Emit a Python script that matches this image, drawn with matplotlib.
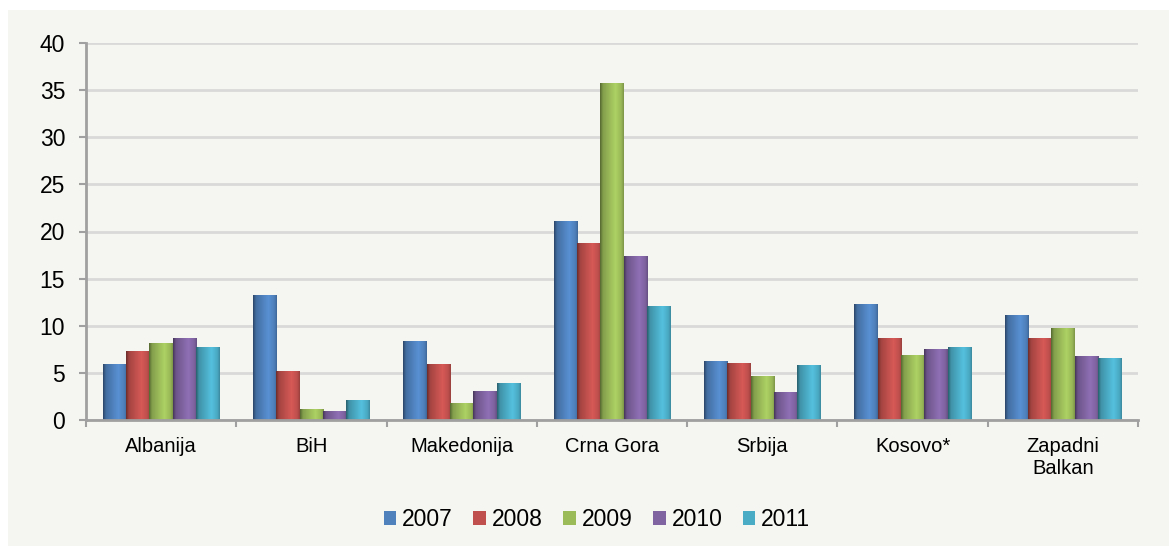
import numpy as np
import matplotlib
matplotlib.use('Agg')
import matplotlib.pyplot as plt
from matplotlib.patches import Rectangle
from matplotlib.colors import to_rgb

# Chart data
countries = ['Albanija', 'BiH', 'Makedonija', 'Crna Gora', 'Srbija', 'Kosovo*', 'Zapadni\nBalkan']
years = ['2007', '2008', '2009', '2010', '2011']
v2007 = [5.9, 13.2, 8.3, 21.1, 6.2, 12.3, 11.1]
v2008 = [7.3, 5.1, 5.9, 18.7, 6.0, 8.7, 8.6]
v2009 = [8.1, 1.1, 1.8, 35.7, 4.6, 6.8, 9.7]
v2010 = [8.6, 0.9, 3.0, 17.3, 2.9, 7.5, 6.7]
v2011 = [7.7, 2.1, 3.9, 12.0, 5.8, 7.7, 6.5]
series = [v2007, v2008, v2009, v2010, v2011]
colors = ['#4F81BD', '#C0504D', '#9BBB59', '#8064A2', '#4BACC6']

panel = '#F5F5F1'
plt.rcParams['font.family'] = ['Liberation Sans', 'DejaVu Sans']


def shade_bar(ax, patch, color):
    '''Paints a cylinder-like horizontal gradient over a bar patch.'''
    x0, y0 = patch.get_x(), patch.get_y()
    w, h = patch.get_width(), patch.get_height()
    t = np.linspace(0, 1, 64)
    # dark left edge, bright around 65%, slightly dark right edge
    f = np.interp(t, [0, 0.12, 0.65, 0.9, 1.0], [0.55, 0.85, 1.12, 0.98, 0.8])
    rgb = np.clip(np.array(to_rgb(color))[None, :] * f[:, None], 0, 1)
    img = rgb[None, :, :]
    ax.imshow(img, extent=(x0, x0 + w, y0, y0 + h), aspect='auto',
              interpolation='bilinear', zorder=3)


fig = plt.figure(figsize=(11.69, 5.46), dpi=100)
fig.patch.set_facecolor('white')
fig.patches.append(Rectangle((8 / 1169, 0), 1, 1 - 10 / 546, transform=fig.transFigure,
                             facecolor=panel, edgecolor='none', zorder=-5))

ax = fig.add_axes([86 / 1169, 1 - 420 / 546, (1138 - 86) / 1169, (420 - 43) / 546])
ax.set_facecolor(panel)

x = np.arange(len(countries))
bw = 0.155
for i, (vals, c) in enumerate(zip(series, colors)):
    bars = ax.bar(x + (i - 2) * bw, vals, bw, color=c, label=years[i], zorder=2)
    for p in bars:
        shade_bar(ax, p, c)

ax.set_xlim(-0.5, len(countries) - 0.5)
ax.set_ylim(0, 40)
ax.set_yticks(np.arange(0, 41, 5))
ax.yaxis.grid(True, color='#D9D9D9', linewidth=2, zorder=0)
ax.set_axisbelow(True)

ax.set_xticks(x)
ax.set_xticklabels(countries, fontsize=14.5)
ax.set_xticks(np.arange(-0.5, len(countries), 1), minor=True)
ax.tick_params(axis='x', which='major', length=0, pad=12)
ax.tick_params(axis='x', which='minor', length=5, width=1.5, color='#A0A0A0', direction='out')
ax.tick_params(axis='y', length=5, width=1.5, color='#A0A0A0', labelsize=16.5, pad=10)

for s in ['top', 'right']:
    ax.spines[s].set_visible(False)
for s in ['left', 'bottom']:
    ax.spines[s].set_color('#A0A0A0')
    ax.spines[s].set_linewidth(2)
    ax.spines[s].set_zorder(4)

handles = [Rectangle((0, 0), 1, 1, facecolor=c, edgecolor='none') for c in colors]
fig.legend(handles, years, loc='center', bbox_to_anchor=(597 / 1169, 1 - 520 / 546),
           ncol=5, frameon=False, fontsize=16.5, handlelength=0.55, handleheight=0.55,
           handletextpad=0.25, columnspacing=0.9)

fig.savefig('out.png', dpi=100, facecolor=fig.get_facecolor())
